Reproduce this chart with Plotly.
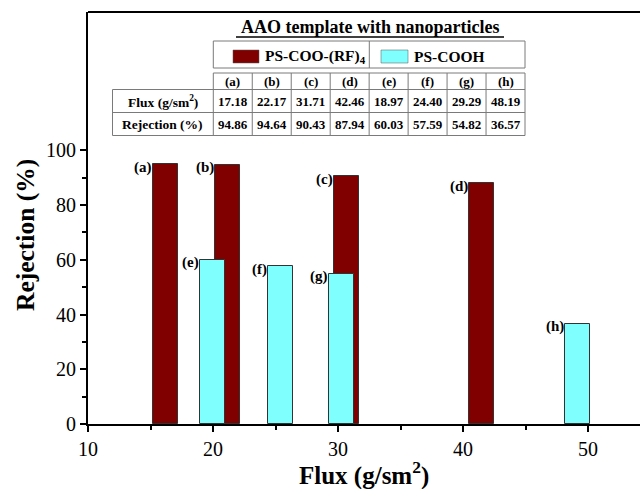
import plotly.graph_objects as go

# ---------------- data ----------------
labels_rf = ["(a)", "(b)", "(c)", "(d)"]
flux_rf = [17.18, 22.17, 31.71, 42.46]
rej_rf = [94.86, 94.64, 90.43, 87.94]

labels_cooh = ["(e)", "(f)", "(g)", "(h)"]
flux_cooh = [18.97, 24.40, 29.29, 48.19]
rej_cooh = [60.03, 57.59, 54.82, 36.57]

name_rf = "PS-COO-(RF)<sub>4</sub>"
name_cooh = "PS-COOH"
table_title = "AAO template with nanoparticles"
row_names = ["Flux (g/sm<sup>2</sup>)", "Rejection (%)"]
x_title = "Flux (g/sm<sup>2</sup>)"
y_title = "Rejection (%)"

x_ticks = [10, 20, 30, 40, 50]
y_ticks = [0, 20, 40, 60, 80, 100]

# ---------------- styling ----------------
FONT = "Liberation Serif"
RED = "#800000"
CYAN = "#80FFFF"
BAR_W = 2.0

W, H = 640, 489
L, R, T, B = 88, 0, 12, 65


def px(x):
    return (x - L) / float(W - L - R)


def py(y):
    return (H - B - y) / float(H - T - B)


fig = go.Figure()
fig.add_trace(go.Bar(x=flux_rf, y=rej_rf, width=BAR_W, offset=-BAR_W,
                     marker=dict(color=RED, line=dict(color="#333333", width=1)),
                     showlegend=False, hoverinfo="skip"))
fig.add_trace(go.Bar(x=flux_cooh, y=rej_cooh, width=BAR_W, offset=0,
                     marker=dict(color=CYAN, line=dict(color="#333333", width=1)),
                     showlegend=False, hoverinfo="skip"))

ann = []
for lab, fx, ry in zip(labels_rf, flux_rf, rej_rf):
    ann.append(dict(x=fx - BAR_W, y=ry, xref="x", yref="y", text="<b>%s</b>" % lab,
                    showarrow=False, xanchor="right", yanchor="middle", yshift=-3, xshift=1,
                    font=dict(family=FONT, size=15, color="black")))
for lab, fx, ry in zip(labels_cooh, flux_cooh, rej_cooh):
    ann.append(dict(x=fx, y=ry, xref="x", yref="y", text="<b>%s</b>" % lab,
                    showarrow=False, xanchor="right", yanchor="middle", yshift=-3, xshift=1,
                    font=dict(family=FONT, size=15, color="black")))

shapes = []
# top frame line
shapes.append(dict(type="line", xref="paper", yref="paper", x0=0, x1=1, y0=1, y1=1,
                   line=dict(color="black", width=2)))

GRAY = "#7a7a7a"


def hline(x0, x1, y):
    shapes.append(dict(type="line", xref="paper", yref="paper", x0=px(x0), x1=px(x1),
                       y0=py(y), y1=py(y), line=dict(color=GRAY, width=1)))


def vline(x, y0, y1):
    shapes.append(dict(type="line", xref="paper", yref="paper", x0=px(x), x1=px(x),
                       y0=py(y0), y1=py(y1), line=dict(color=GRAY, width=1)))


def text(x, y, s, size=12, xanchor="center", angle=0):
    ann.append(dict(x=px(x), y=py(y), xref="paper", yref="paper", text=s, showarrow=False,
                    xanchor=xanchor, yanchor="middle", textangle=angle,
                    font=dict(family=FONT, size=size, color="black")))


# axis titles
text(364, 473, "<b>%s</b>" % x_title, size=25)
text(25, 235, "<b>%s</b>" % y_title, size=25.5, angle=-90)

# table title
text(370, 27, "<b>%s</b>" % table_title, size=18)
shapes.append(dict(type="line", xref="paper", yref="paper", x0=px(236), x1=px(504),
                   y0=py(37), y1=py(37), line=dict(color="black", width=1.5)))

# legend box
lx0, lx1, lmid, ly0, ly1 = 213.3, 525, 369.3, 41, 68
hline(lx0, lx1, ly0)
hline(lx0, lx1, ly1)
vline(lx0, ly0, ly1)
vline(lx1, ly0, ly1)
vline(lmid, ly0, ly1)
shapes.append(dict(type="rect", xref="paper", yref="paper", x0=px(233), x1=px(259),
                   y0=py(63), y1=py(50), fillcolor=RED, line=dict(color="#555555", width=0.5)))
shapes.append(dict(type="rect", xref="paper", yref="paper", x0=px(381), x1=px(408),
                   y0=py(63), y1=py(50), fillcolor=CYAN, line=dict(color="#555555", width=0.5)))
text(263, 56.5, "<b>%s</b>" % name_rf, size=15.5, xanchor="left")
text(412, 56.5, "<b>%s</b>" % name_cooh, size=15.5, xanchor="left")

# data table
col0 = 213.3
cw = (525 - 213.3) / 8
cols = [col0 + cw * i for i in range(9)]
rows = [73, 89.5, 112.5, 135.5]
lab_left = 112.5
hline(cols[0], cols[-1], rows[0])
hline(lab_left, cols[-1], rows[1])
hline(lab_left, cols[-1], rows[2])
hline(lab_left, cols[-1], rows[3])
vline(lab_left, rows[1], rows[3])
for c in cols:
    vline(c, rows[0], rows[3])

all_labels = labels_rf + labels_cooh
all_flux = flux_rf + flux_cooh
all_rej = rej_rf + rej_cooh
for i in range(8):
    cx = (cols[i] + cols[i + 1]) / 2
    text(cx, (rows[0] + rows[1]) / 2, "<b>%s</b>" % all_labels[i], size=13)
    text(cx, (rows[1] + rows[2]) / 2, "<b>%.2f</b>" % all_flux[i], size=13)
    text(cx, (rows[2] + rows[3]) / 2, "<b>%.2f</b>" % all_rej[i], size=13)
text((lab_left + cols[0]) / 2, (rows[1] + rows[2]) / 2, "<b>%s</b>" % row_names[0], size=13.5)
text((lab_left + cols[0]) / 2, (rows[2] + rows[3]) / 2, "<b>%s</b>" % row_names[1], size=13.5)

fig.update_layout(
    width=W, height=H,
    margin=dict(l=L, r=R, t=T, b=B, pad=0),
    plot_bgcolor="white", paper_bgcolor="white",
    barmode="overlay",
    bargap=0,
    annotations=ann,
    shapes=shapes,
    font=dict(family=FONT, color="black"),
    xaxis=dict(
        range=[10, 54.16], tickvals=x_ticks, ticktext=[str(v) for v in x_ticks],
        showline=True, linecolor="black", linewidth=2,
        ticks="outside", ticklen=6, tickwidth=1.5, tickcolor="black",
        minor=dict(tickvals=[15, 25, 35, 45], ticks="outside", ticklen=4, tickwidth=1.5,
                   tickcolor="black"),
        showgrid=False, zeroline=False,
        tickfont=dict(family=FONT, size=20, color="black"),
    ),
    yaxis=dict(
        range=[0, 150.5], tickvals=y_ticks, ticktext=[str(v) for v in y_ticks],
        showline=True, linecolor="black", linewidth=2,
        ticks="outside", ticklen=6, tickwidth=1.5, tickcolor="black",
        minor=dict(tickvals=[10, 30, 50, 70, 90], ticks="outside", ticklen=4, tickwidth=1.5,
                   tickcolor="black"),
        showgrid=False, zeroline=False,
        tickfont=dict(family=FONT, size=20, color="black"),
    ),
)

fig.write_html(
    "out.html",
    config={"displayModeBar": False},
    post_script="document.body.style.margin='0';document.body.style.overflow='hidden';",
)
